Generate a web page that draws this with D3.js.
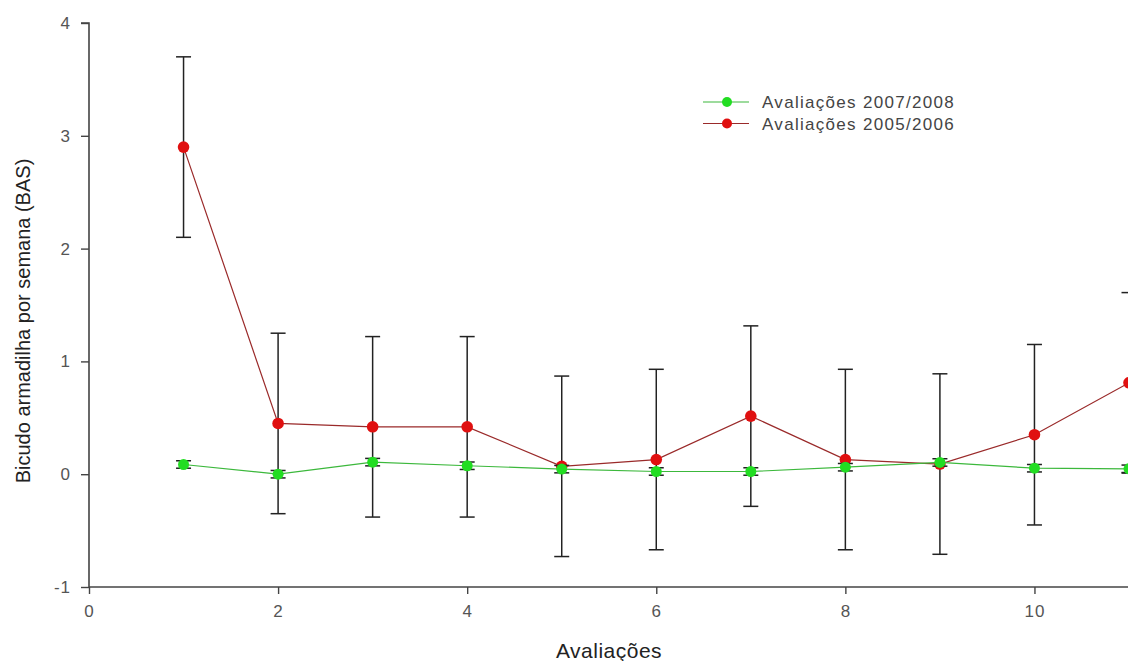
<!DOCTYPE html>
<html><head><meta charset="utf-8">
<script src="https://cdn.jsdelivr.net/npm/d3@7"></script>
<style>
html,body{margin:0;padding:0;background:#fff;overflow:hidden}
svg{display:block}
</style></head><body>
<script>
const avaliacoes = [1,2,3,4,5,6,7,8,9,10,11];
const red2005 = [2.90,0.45,0.42,0.42,0.07,0.13,0.515,0.13,0.09,0.35,0.81];
const redErr  = [0.80,0.80,0.80,0.80,0.80,0.80,0.80,0.80,0.80,0.80,0.80];
const green2007 = [0.086,0.0,0.107,0.075,0.045,0.024,0.024,0.062,0.104,0.053,0.048];
const greenErr  = [0.033,0.033,0.033,0.033,0.033,0.033,0.033,0.033,0.033,0.033,0.033];
const xTicks = [0,2,4,6,8,10];
const yTicks = [-1,0,1,2,3,4];
const legendLabels = ["Avaliações 2007/2008","Avaliações 2005/2006"];

const W=1128,H=661;
const svg=d3.select("body").append("svg").attr("width",W).attr("height",H);
const x=d3.scaleLinear().domain([0,11]).range([89,1129]);
const y=d3.scaleLinear().domain([-1,4]).range([587,23]);

const tickFont="'Liberation Sans',Arial,sans-serif";
const fmt=d=>String(d).replace("\u2212","-");
// axes
const yAx=svg.append("g").attr("transform","translate(89,0)")
  .call(d3.axisLeft(y).tickValues(yTicks).tickSize(8).tickPadding(10).tickFormat(fmt));
const xAx=svg.append("g").attr("transform","translate(0,587)")
  .call(d3.axisBottom(x).tickValues(xTicks).tickSize(7).tickPadding(11).tickFormat(fmt));
[yAx,xAx].forEach(g=>{
  g.select(".domain").attr("stroke","#444").attr("stroke-width",1.6);
  g.selectAll(".tick line").attr("stroke","#444").attr("stroke-width",1.4);
  g.selectAll(".tick text").attr("fill","#555").style("font-family",tickFont).style("font-size","17px").style("letter-spacing","1px");
});
xAx.select(".domain").attr("d","M89,0H1130");
yAx.select(".domain").attr("d","M-8,"+y(4)+"H0V"+y(-1));

// error bars function
function errBars(vals,errs){
  const g=svg.append("g");
  avaliacoes.forEach((a,i)=>{
    const cx=x(a), t=y(vals[i]+errs[i]), b=y(vals[i]-errs[i]);
    g.append("line").attr("x1",cx).attr("x2",cx).attr("y1",t).attr("y2",b).attr("stroke","#222").attr("stroke-width",1.5);
    [t,b].forEach(yy=>g.append("line").attr("x1",cx-7.5).attr("x2",cx+7.5).attr("y1",yy).attr("y2",yy).attr("stroke","#222").attr("stroke-width",1.5));
  });
}
const line=d3.line().x((d,i)=>x(avaliacoes[i])).y(d=>y(d));

errBars(red2005,redErr);
svg.append("path").datum(red2005).attr("d",line).attr("fill","none").attr("stroke","#9a2a2a").attr("stroke-width",1.2);
svg.append("g").selectAll("circle").data(red2005).join("circle")
  .attr("cx",(d,i)=>x(avaliacoes[i])).attr("cy",d=>y(d)).attr("r",5.8).attr("fill","#e01010");

errBars(green2007,greenErr);
svg.append("path").datum(green2007).attr("d",line).attr("fill","none").attr("stroke","#3cb83c").attr("stroke-width",1.2);
svg.append("g").selectAll("circle").data(green2007).join("circle")
  .attr("cx",(d,i)=>x(avaliacoes[i])).attr("cy",d=>y(d)).attr("r",5.5).attr("fill","#22dd22");

// legend
const legColors=[{line:"#3cb83c",dot:"#22dd22"},{line:"#9a2a2a",dot:"#e01010"}];
const leg=svg.append("g");
legendLabels.forEach((lab,i)=>{
  const yy=102+i*21.5;
  leg.append("line").attr("x1",703).attr("x2",749).attr("y1",yy).attr("y2",yy).attr("stroke",legColors[i].line).attr("stroke-width",1.2);
  leg.append("circle").attr("cx",727).attr("cy",yy).attr("r",5).attr("fill",legColors[i].dot);
  leg.append("text").attr("x",762).attr("y",yy+6).text(lab)
    .attr("fill","#444").style("font-family",tickFont).style("font-size","17px").style("letter-spacing","1.3px");
});

// titles
svg.append("text").attr("x",609).attr("y",658).attr("text-anchor","middle").text("Avaliações")
  .attr("fill","#222").style("font-family",tickFont).style("font-size","21px").style("letter-spacing","0.5px");
svg.append("text").attr("transform","translate(30,321) rotate(-90)").attr("text-anchor","middle")
  .text("Bicudo armadilha por semana (BAS)").attr("fill","#222").style("font-family",tickFont).style("font-size","20px");
</script>
</body></html>
